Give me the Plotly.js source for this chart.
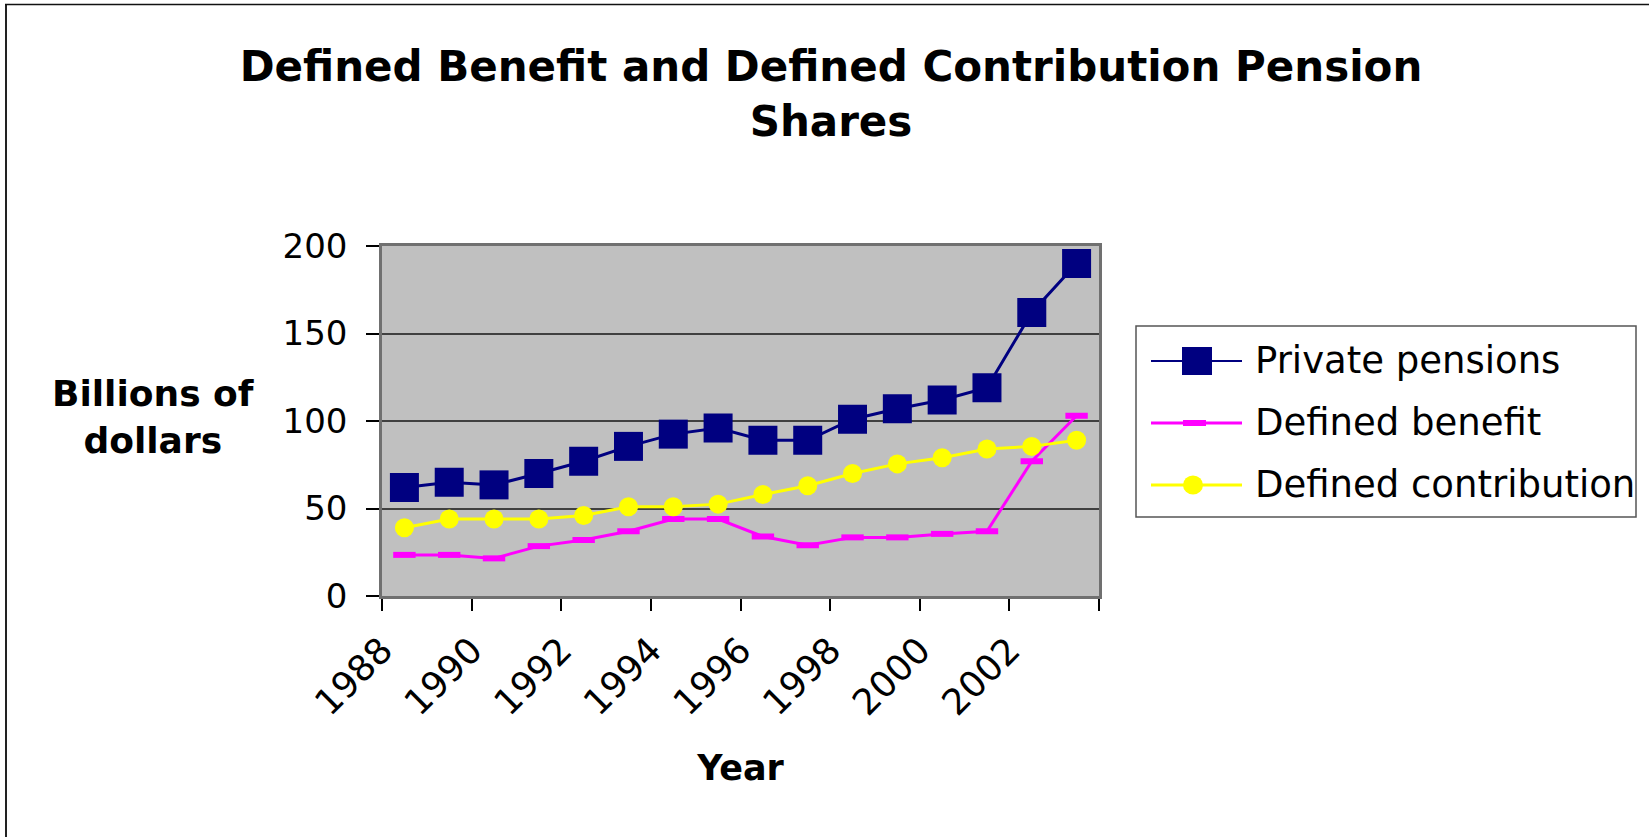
<!DOCTYPE html>
<html>
<head>
<meta charset="utf-8">
<script src="https://cdn.plot.ly/plotly-3.0.1.min.js"></script>
<style>
  html, body { margin: 0; padding: 0; background: #ffffff; }
  #chart { width: 1649px; height: 837px; }
</style>
</head>
<body>
<div id="chart"></div>
<script>
// ---- Data (billions of dollars) ----
const years = [1988, 1989, 1990, 1991, 1992, 1993, 1994, 1995, 1996, 1997, 1998, 1999, 2000, 2001, 2002, 2003];
const privatePensions = [62, 65, 63.5, 70, 77, 85.5, 92.5, 96, 89, 89, 101, 107, 112, 119, 162, 190];
const definedBenefit = [23.5, 23.5, 21.5, 28.5, 32, 37, 44, 44, 34, 29, 33.5, 33.5, 35.5, 37, 77, 103];
const definedContribution = [39, 44, 44, 44, 46, 51, 51, 52.5, 58, 63, 70, 75.5, 79, 84, 85.5, 89];
const seriesNames = ['Private pensions', 'Defined benefit', 'Defined contribution'];
const seriesColors = ['#000080', '#FF00FF', '#FFFF00'];
const xTickLabels = ['1988', '1990', '1992', '1994', '1996', '1998', '2000', '2002'];
const yTickValues = [0, 50, 100, 150, 200];
const titleText = 'Defined Benefit and Defined Contribution Pension<br>Shares';
const xTitleText = 'Year';
const yTitleText = 'Billions of<br>dollars';

// ---- Layout geometry ----
const W = 1649, H = 837;
const L = 382, R = 1099, T = 246, B = 596;
const px2x = px => (px - L) / (R - L);
const py2y = py => (B - py) / (B - T);
const FONT = 'DejaVu Sans';

// category-boundary ticks (labels sit at the left boundary of every second year)
const tickVals = xTickLabels.map(t => Number(t) - 0.5).concat([years[years.length - 1] + 0.5]);
const tickText = xTickLabels.concat(['']);

const traces = [
  {
    x: years, y: privatePensions, name: seriesNames[0], type: 'scatter', mode: 'lines+markers',
    line: { color: seriesColors[0], width: 3 },
    marker: { symbol: 'square', size: 29, color: seriesColors[0] }
  },
  {
    x: years, y: definedBenefit, name: seriesNames[1], type: 'scatter', mode: 'lines+markers',
    line: { color: seriesColors[1], width: 3 },
    marker: { symbol: 'line-ew', size: 16, color: seriesColors[1], line: { color: seriesColors[1], width: 6 } }
  },
  {
    x: years, y: definedContribution, name: seriesNames[2], type: 'scatter', mode: 'lines+markers',
    line: { color: seriesColors[2], width: 3 },
    marker: { symbol: 'circle', size: 19, color: seriesColors[2] }
  }
];

// ---- Manual legend (Excel style: long sample lines, full-size markers) ----
const shapes = [];
const annotations = [];
const legBox = { x0: 1136, x1: 1636, y0: 326, y1: 517 };
shapes.push({ type: 'rect', xref: 'paper', yref: 'paper', layer: 'above',
  x0: px2x(legBox.x0), x1: px2x(legBox.x1), y0: py2y(legBox.y1), y1: py2y(legBox.y0),
  line: { color: '#555555', width: 1.5 }, fillcolor: '#ffffff' });
const legY = [361, 423, 485];
const lineW = [2, 3, 3];
seriesNames.forEach((nm, i) => {
  const yc = legY[i];
  shapes.push({ type: 'line', xref: 'paper', yref: 'paper', layer: 'above',
    x0: px2x(1151), x1: px2x(1242), y0: py2y(yc), y1: py2y(yc),
    line: { color: seriesColors[i], width: lineW[i] } });
  if (i === 0) {
    shapes.push({ type: 'rect', xref: 'paper', yref: 'paper', layer: 'above',
      x0: px2x(1182), x1: px2x(1212), y0: py2y(yc + 14), y1: py2y(yc - 14),
      line: { width: 0 }, fillcolor: seriesColors[i] });
  } else if (i === 1) {
    shapes.push({ type: 'rect', xref: 'paper', yref: 'paper', layer: 'above',
      x0: px2x(1183), x1: px2x(1206), y0: py2y(yc + 3), y1: py2y(yc - 3),
      line: { width: 0 }, fillcolor: seriesColors[i] });
  } else {
    shapes.push({ type: 'circle', xref: 'paper', yref: 'paper', layer: 'above',
      x0: px2x(1183), x1: px2x(1203), y0: py2y(yc + 9.5), y1: py2y(yc - 9.5),
      line: { width: 0 }, fillcolor: seriesColors[i] });
  }
  annotations.push({ xref: 'paper', yref: 'paper', x: px2x(1253), y: py2y(yc - 1),
    xanchor: 'left', yanchor: 'middle', showarrow: false, text: nm,
    font: { family: FONT, size: 37, color: '#000000' } });
});

// y-axis title (horizontal, two lines)
annotations.push({ xref: 'paper', yref: 'paper', x: px2x(153), y: py2y(417),
  xanchor: 'center', yanchor: 'middle', showarrow: false, text: yTitleText, align: 'center',
  font: { family: FONT, size: 36, color: '#000000', weight: 'bold' } });

// outer frame (top and left edges)
shapes.push({ type: 'line', xref: 'paper', yref: 'paper', layer: 'above',
  x0: px2x(6), x1: px2x(6), y0: py2y(845), y1: py2y(4.5), line: { color: '#222222', width: 2 } });
shapes.push({ type: 'line', xref: 'paper', yref: 'paper', layer: 'above',
  x0: px2x(5), x1: px2x(1660), y0: py2y(4.5), y1: py2y(4.5), line: { color: '#111111', width: 1.5 } });

const layout = {
  width: W, height: H,
  margin: { l: L, r: W - R, t: T, b: H - B, pad: 0 },
  paper_bgcolor: '#ffffff',
  plot_bgcolor: '#C0C0C0',
  showlegend: false,
  title: {
    text: titleText,
    xref: 'container', yref: 'container',
    x: 831 / W, xanchor: 'center',
    y: 1 - 81 / H, yanchor: 'middle',
    font: { family: FONT, size: 42, color: '#000000', weight: 'bold' }
  },
  xaxis: {
    range: [years[0] - 0.5, years[years.length - 1] + 0.5],
    tickmode: 'array', tickvals: tickVals, ticktext: tickText,
    tickangle: -45,
    ticks: 'outside', ticklen: 12, tickwidth: 1.5, tickcolor: '#000000',
    showgrid: false, zeroline: false,
    showline: true, linecolor: '#707070', linewidth: 2.5, mirror: true,
    tickfont: { family: FONT, size: 36, color: '#000000' },
    ticklabelstandoff: 4,
    title: { text: xTitleText, standoff: 34,
      font: { family: FONT, size: 35, color: '#000000', weight: 'bold' } },
    fixedrange: true
  },
  yaxis: {
    range: [0, 200],
    tickmode: 'array', tickvals: yTickValues,
    ticks: 'outside', ticklen: 13, tickwidth: 1.5, tickcolor: '#000000',
    showgrid: true, gridcolor: '#404040', gridwidth: 1.5,
    zeroline: false,
    showline: true, linecolor: '#707070', linewidth: 2.5, mirror: true,
    tickfont: { family: FONT, size: 34, color: '#000000' },
    ticklabelstandoff: 12,
    fixedrange: true
  },
  shapes: shapes,
  annotations: annotations
};

Plotly.newPlot('chart', traces, layout, { displayModeBar: false, responsive: false });
</script>
</body>
</html>
